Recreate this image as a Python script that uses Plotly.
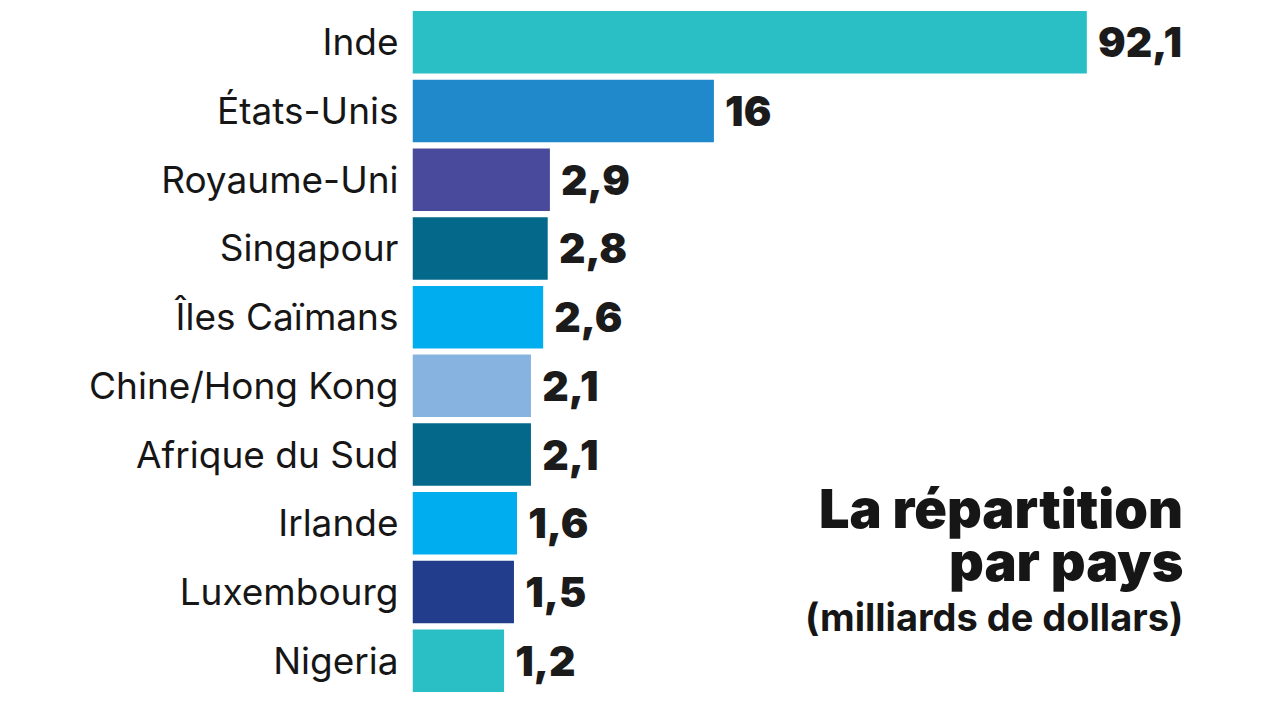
import numpy as np
import plotly.graph_objects as go

# data
countries = ['Inde', 'États-Unis', 'Royaume-Uni', 'Singapour', 'Îles Caïmans',
             'Chine/Hong Kong', 'Afrique du Sud', 'Irlande', 'Luxembourg', 'Nigeria']
values = [92.1, 16, 2.9, 2.8, 2.6, 2.1, 2.1, 1.6, 1.5, 1.2]
colors = ['#2abfc4', '#1f89cc', '#4a4a9c', '#04688a', '#00adee',
          '#86b3e0', '#04688a', '#00adee', '#233d8d', '#2abfc4']

# the source bars are drawn on a compressed (power ~0.46) scale
bar_len = np.power(values, 0.46)
labels = [('%g' % v).replace('.', ',') for v in values]

# page has an 8px body margin, so the figure is drawn 8px in from the corner
W, H = 1272, 712
LEFT = 412.5 - 8

fig = go.Figure()
fig.add_trace(go.Bar(
    y=countries, x=bar_len, orientation='h',
    marker=dict(color=colors, line=dict(width=0)),
    text=labels, texttemplate='\u00a0%{text}', textposition='outside', cliponaxis=False,
    textfont=dict(family='Inter', size=41, weight=900, color='#1b1b1b'),
    hoverinfo='skip',
))

fig.update_layout(
    width=W, height=H,
    margin=dict(l=0, r=0, t=0, b=25),
    plot_bgcolor='white', paper_bgcolor='white',
    bargap=0.09, showlegend=False,
    xaxis=dict(domain=[LEFT / W, 1], range=[0, (W - LEFT) / 84.2],
               visible=False, fixedrange=True),
    yaxis=dict(autorange='reversed', showgrid=False, showline=False, ticks='',
               ticklabelstandoff=13, automargin=False,
               tickfont=dict(family='Inter', size=37, color='#161616')),
)


# title block, bottom right (y given in page pixels)
def py(p):
    return (H - 25 - (p - 8)) / (H - 25)


title_x = (1185 - 8) / W
fig.add_annotation(text='La répartition', x=title_x, y=py(508.5), xref='paper', yref='paper',
                   xanchor='right', yanchor='middle', showarrow=False,
                   font=dict(family='Inter', size=54, weight=900, color='#161616'))
fig.add_annotation(text='par pays', x=title_x, y=py(561), xref='paper', yref='paper',
                   xanchor='right', yanchor='middle', showarrow=False,
                   font=dict(family='Inter', size=54, weight=900, color='#161616'))
fig.add_annotation(text='(milliards de dollars)', x=title_x, y=py(617), xref='paper', yref='paper',
                   xanchor='right', yanchor='middle', showarrow=False,
                   font=dict(family='Inter', size=38, weight=700, color='#161616'))

fig.write_html('out.html')
